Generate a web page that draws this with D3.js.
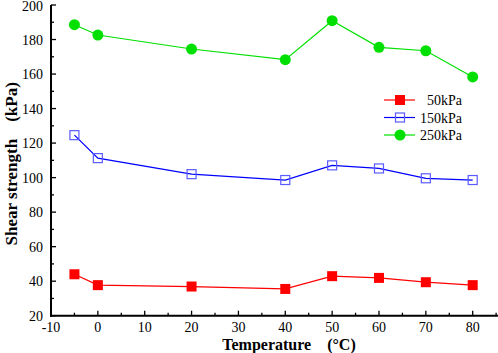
<!DOCTYPE html>
<html>
<head>
<meta charset="utf-8">
<script src="https://cdn.jsdelivr.net/npm/d3@7"></script>
<style>
  body { margin: 0; background: #fff; }
  svg { display: block; }
</style>
</head>
<body>
<svg id="chart"></svg>
<script>
const TEMPS = [-5, 0, 20, 40, 50, 60, 70, 80];
const KPA50 = [44, 37.7, 36.9, 35.5, 42.9, 41.9, 39.4, 37.7];
const KPA150 = [124.6, 111.3, 102, 98.6, 107.1, 105.3, 99.6, 98.6];
const KPA250 = [188.6, 182.6, 174.5, 168.3, 190.9, 175.5, 173.5, 158.3];
const SERIES_NAMES = ['50kPa', '150kPa', '250kPa'];
const X_TICKS = [-10, 0, 10, 20, 30, 40, 50, 60, 70, 80];
const Y_TICKS = [20, 40, 60, 80, 100, 120, 140, 160, 180, 200];

const W = 498, H = 353;
const svg = d3.select('#chart').attr('width', W).attr('height', H);

/* scales */
const x = d3.scaleLinear().domain([-10, 85.4]).range([51, 498]);
const y = d3.scaleLinear().domain([20, 200]).range([315.7, 5]);

const fontTick = '"Liberation Serif", "Times New Roman", serif';

/* axes - ticks point inward */
const minorX = d3.range(-10, 86, 5).filter(v => v % 10 !== 0);
const minorY = d3.range(30, 200, 20);

const xAxis = svg.append('g').attr('transform', `translate(0,${y(20)})`);
xAxis.append('line').attr('x1', 50).attr('x2', 498).attr('stroke', '#000').attr('stroke-width', 2);
xAxis.selectAll('.maj').data(X_TICKS).enter().append('line')
    .attr('x1', d => x(d)).attr('x2', d => x(d)).attr('y1', 0).attr('y2', -5)
    .attr('stroke', '#000').attr('stroke-width', 1.3);
xAxis.selectAll('.min').data(minorX).enter().append('line')
    .attr('x1', d => x(d)).attr('x2', d => x(d)).attr('y1', 0).attr('y2', -3)
    .attr('stroke', '#000').attr('stroke-width', 1.3);
xAxis.selectAll('text').data(X_TICKS).enter().append('text')
    .attr('x', d => x(d)).attr('y', 16)
    .attr('text-anchor', 'middle')
    .style('font-family', fontTick).style('font-size', '14px')
    .text(d => d);

const yAxis = svg.append('g').attr('transform', `translate(${x(-10)},0)`);
yAxis.append('line').attr('y1', y(20) + 1).attr('y2', y(200)).attr('stroke', '#000').attr('stroke-width', 2);
yAxis.selectAll('.maj').data(Y_TICKS).enter().append('line')
    .attr('y1', d => y(d)).attr('y2', d => y(d)).attr('x1', 0).attr('x2', 5)
    .attr('stroke', '#000').attr('stroke-width', 1.3);
yAxis.selectAll('.min').data(minorY).enter().append('line')
    .attr('y1', d => y(d)).attr('y2', d => y(d)).attr('x1', 0).attr('x2', 3)
    .attr('stroke', '#000').attr('stroke-width', 1.3);
yAxis.selectAll('text').data(Y_TICKS).enter().append('text')
    .attr('x', -8).attr('y', d => Math.max(y(d) + 5, 11))
    .attr('text-anchor', 'end')
    .style('font-family', fontTick).style('font-size', '14px')
    .text(d => d);

/* axis titles */
svg.append('text')
    .attr('x', 289).attr('y', 350)
    .attr('text-anchor', 'middle')
    .style('font-family', fontTick).style('font-size', '16px').style('font-weight', 'bold')
    .text('Temperature\u3000(°C)');
svg.append('text')
    .attr('transform', `translate(17,${y(108)}) rotate(-90)`)
    .attr('text-anchor', 'middle')
    .style('font-family', fontTick).style('font-size', '17px').style('font-weight', 'bold')
    .text('Shear strength\u3000(kPa)');

/* series */
const series = [
    {name: SERIES_NAMES[0], values: KPA50, line: '#ff0000', marker: 'sqFill', mcolor: '#ff0000'},
    {name: SERIES_NAMES[1], values: KPA150, line: '#0000ff', marker: 'sqOpen', mcolor: '#5b5bff'},
    {name: SERIES_NAMES[2], values: KPA250, line: '#00e000', marker: 'circle', mcolor: '#00e000'},
];

const line = d3.line().x(d => x(d[0])).y(d => y(d[1]));

function drawMarker(g, type, color, cx, cy) {
    if (type === 'circle') {
        g.append('circle').attr('cx', cx).attr('cy', cy).attr('r', 5.5).attr('fill', color);
    } else if (type === 'sqFill') {
        g.append('rect').attr('x', cx - 5).attr('y', cy - 5).attr('width', 10).attr('height', 10).attr('fill', color);
    } else {
        g.append('rect').attr('x', cx - 4.5).attr('y', cy - 4.5).attr('width', 9).attr('height', 9)
            .attr('fill', 'none').attr('stroke', color).attr('stroke-width', 1.2);
    }
}

series.forEach(s => {
    const pts = TEMPS.map((t, i) => [t, s.values[i]]);
    svg.append('path').datum(pts).attr('d', line)
        .attr('fill', 'none').attr('stroke', s.line).attr('stroke-width', 1.2);
    const g = svg.append('g');
    pts.forEach(p => drawMarker(g, s.marker, s.mcolor, x(p[0]), y(p[1])));
});

/* legend */
const legend = svg.append('g');
series.forEach((s, i) => {
    const ly = 100 + i * 17.5;
    legend.append('line').attr('x1', 384).attr('x2', 415).attr('y1', ly).attr('y2', ly)
        .attr('stroke', s.line).attr('stroke-width', 1.2);
    drawMarker(legend, s.marker, s.mcolor, 400, ly);
    legend.append('text')
        .attr('x', 462).attr('y', ly + 5)
        .attr('text-anchor', 'end')
        .style('font-family', fontTick).style('font-size', '14px')
        .text(s.name);
});
</script>
</body>
</html>
